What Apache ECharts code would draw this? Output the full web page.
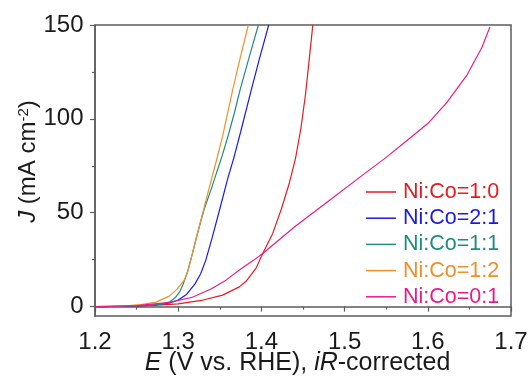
<!DOCTYPE html>
<html>
<head>
<meta charset="utf-8">
<script src="https://cdn.jsdelivr.net/npm/echarts@6/dist/echarts.min.js"></script>
<style>
  html, body { margin: 0; padding: 0; background: #fff; }
  #chart { width: 531px; height: 376px; }
</style>
</head>
<body>
<div id="chart"></div>
<script>
// Polarization curves (OER), potential E in V vs. RHE, current density J in mA cm^-2
const seriesNames = ['Ni:Co=1:0', 'Ni:Co=2:1', 'Ni:Co=1:1', 'Ni:Co=1:2', 'Ni:Co=0:1'];
const seriesColors = ['#e8191f', '#1a1ae6', '#1f8c82', '#f0902a', '#ec1a88'];

const ni10E = [1.20, 1.25, 1.28, 1.30, 1.33, 1.3534, 1.3735, 1.3815, 1.3936, 1.4016, 1.4136, 1.424, 1.4337, 1.441, 1.4475, 1.453, 1.4578, 1.4618];
const ni10J = [0.0, 0.3, 0.9, 1.5, 3.5, 6.1, 10.5, 13.5, 20.5, 28.3, 39, 52, 66, 79, 95, 113, 133, 150];

const ni21E = [1.20, 1.24, 1.27, 1.29, 1.30, 1.31, 1.32, 1.327, 1.333, 1.341, 1.35, 1.36, 1.3667, 1.375, 1.3876, 1.3976, 1.4088];
const ni21J = [0.0, 0.2, 0.8, 2.0, 3.5, 6.5, 12, 17.5, 24.5, 37, 52, 69, 79, 93, 115, 132, 150];

const ni11E = [1.20, 1.24, 1.265, 1.28, 1.29, 1.297, 1.302, 1.306, 1.3112, 1.3172, 1.3233, 1.3313, 1.34, 1.3466, 1.3526, 1.36, 1.3674, 1.3743, 1.3854, 1.3964];
const ni11J = [0.0, 0.2, 0.6, 1.3, 2.6, 5.0, 8.0, 12, 18.4, 28.5, 39.2, 52, 63, 72, 80, 91, 103, 115.3, 133, 150];

const ni12E = [1.20, 1.22, 1.24, 1.255, 1.2735, 1.2892, 1.2988, 1.3072, 1.3112, 1.3172, 1.3233, 1.3313, 1.3386, 1.3461, 1.3534, 1.3594, 1.3654, 1.3748, 1.3843];
const ni12J = [0.0, 0.2, 0.6, 1.1, 2.4, 5.6, 9.3, 14.1, 18.4, 28.5, 39.2, 53, 65.5, 78.1, 90.8, 103, 115.3, 133, 150];

const ni01E = [1.20, 1.25, 1.29, 1.317, 1.34, 1.3574, 1.3735, 1.39, 1.4016, 1.44, 1.48, 1.52, 1.55, 1.575, 1.60, 1.6225, 1.6466, 1.665, 1.6747];
const ni01J = [0.0, 0.5, 2.3, 5.0, 9.5, 14.1, 19.5, 24.5, 28.3, 42.5, 56, 69.5, 79.5, 88.5, 97.5, 108.5, 123, 138, 149];

const xTicks = [1.2, 1.3, 1.4, 1.5, 1.6, 1.7];
const yTicks = [0, 50, 100, 150];
const yMinorTicks = [25, 75, 125];

const potentials = [ni10E, ni21E, ni11E, ni12E, ni01E];
const currents = [ni10J, ni21J, ni11J, ni12J, ni01J];

const FONT = '"Liberation Sans", Arial, sans-serif';
const AXIS_COLOR = '#5c5c5c';
const TEXT_COLOR = '#1a1a1a';

const series = seriesNames.map((name, i) => ({
  name: name,
  type: 'line',
  data: potentials[i].map((e, k) => [e, currents[i][k]]),
  showSymbol: false,
  smooth: false,
  lineStyle: { color: seriesColors[i], width: 1.2 },
  itemStyle: { color: seriesColors[i] },
  emphasis: { disabled: true },
  z: 2 + i
}));

const chart = echarts.init(document.getElementById('chart'), null, { renderer: 'canvas' });
chart.setOption({
  animation: false,
  backgroundColor: '#fff',
  grid: {
    left: 95, right: 20, top: 25, bottom: 60,
    outerBoundsMode: 'none',
    containLabel: false,
    show: true, borderColor: AXIS_COLOR, borderWidth: 1.5, backgroundColor: 'transparent'
  },
  legend: {
    orient: 'vertical',
    left: 366, top: 181,
    padding: 0,
    itemGap: 4.2,
    itemWidth: 30, itemHeight: 1.5,
    icon: 'rect',
    selectedMode: false,
    textStyle: { fontFamily: FONT, fontSize: 21.5, lineHeight: 22, padding: [0, 0, 0, 2] },
    data: seriesNames.map((n, i) => ({ name: n, textStyle: { color: seriesColors[i] } }))
  },
  xAxis: {
    type: 'value',
    min: 1.2, max: 1.7, interval: 0.1,
    axisLine: { show: true, lineStyle: { color: AXIS_COLOR, width: 1.5 } },
    axisTick: { show: true, length: 5, lineStyle: { color: AXIS_COLOR, width: 1.2 } },
    minorTick: { show: true, splitNumber: 2, length: 3, lineStyle: { color: AXIS_COLOR, width: 1.2 } },
    splitLine: { show: false },
    minorSplitLine: { show: false },
    axisLabel: {
      margin: 14, fontFamily: FONT, fontSize: 24, color: TEXT_COLOR,
      formatter: v => v.toFixed(1)
    },
    name: '{it|E} (V vs. RHE), {it|iR}-corrected',
    nameLocation: 'middle',
    nameMoveOverlap: false,
    nameGap: 35,
    nameTextStyle: {
      fontFamily: FONT, fontSize: 25, color: TEXT_COLOR, padding: [0, 11, 0, 0],
      rich: { it: { fontFamily: FONT, fontSize: 25, fontStyle: 'italic', color: TEXT_COLOR } }
    }
  },
  yAxis: [
    {
      type: 'value',
      min: -5, max: 150,
      axisLine: { show: true, lineStyle: { color: AXIS_COLOR, width: 1.5 } },
      axisTick: { show: true, length: 5, customValues: yTicks, lineStyle: { color: AXIS_COLOR, width: 1.2 } },
      splitLine: { show: false },
      axisLabel: {
        margin: 11.5, fontFamily: FONT, fontSize: 24, color: TEXT_COLOR,
        customValues: yTicks
      },
      name: '{it|J} (mA cm{sup|-2})',
      nameLocation: 'middle',
      nameMoveOverlap: false,
      nameGap: 55,
      nameTextStyle: {
        fontFamily: FONT, fontSize: 24, color: TEXT_COLOR, padding: [0, 0, 0, 18],
        rich: {
          it: { fontFamily: FONT, fontSize: 24, fontStyle: 'italic', color: TEXT_COLOR },
          sup: { fontFamily: FONT, fontSize: 15, color: TEXT_COLOR, verticalAlign: 'top', lineHeight: 15 }
        }
      }
    },
    {
      type: 'value',
      min: -5, max: 150,
      position: 'left',
      axisLine: { show: false },
      axisTick: { show: true, length: 3, customValues: yMinorTicks, lineStyle: { color: AXIS_COLOR, width: 1.2 } },
      splitLine: { show: false },
      axisLabel: { show: false }
    }
  ],
  series: series
});
</script>
</body>
</html>
